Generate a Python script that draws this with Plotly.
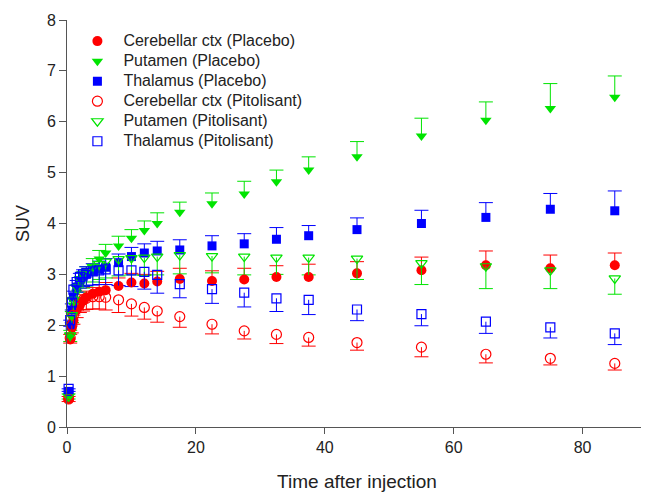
import plotly.graph_objects as go

# Time points (min)
t = [0.25, 0.5, 0.75, 1, 1.5, 2, 2.5, 3, 4, 5, 6, 8, 10, 12, 14, 17.5,
     22.5, 27.5, 32.5, 37.5, 45, 55, 65, 75, 85]

# Placebo
cer_pl = [0.55, 1.72, 1.95, 2.1, 2.3, 2.4, 2.48, 2.55, 2.62, 2.66, 2.69, 2.77, 2.84, 2.82, 2.86, 2.91,
          2.87, 2.90, 2.95, 2.95, 3.02, 3.08, 3.18, 3.12, 3.18]
cer_pl_err = [0.05, 0.1, 0.1, 0.1, 0.1, 0.1, 0.12, 0.12, 0.12, 0.14, 0.15, 0.16, 0.18, 0.18, 0.2, 0.21,
              0.2, 0.22, 0.22, 0.25, 0.23, 0.26, 0.28, 0.26, 0.24]
put_pl = [0.6, 1.8, 2.15, 2.4, 2.65, 2.8, 2.9, 3.0, 3.15, 3.3, 3.42, 3.56, 3.71, 3.86, 4.0, 4.22,
          4.39, 4.58, 4.82, 5.05, 5.31, 5.72, 6.03, 6.26, 6.48]
put_pl_err = [0.05, 0.1, 0.12, 0.12, 0.13, 0.14, 0.15, 0.15, 0.16, 0.17, 0.17, 0.19, 0.17, 0.19, 0.21, 0.2,
              0.21, 0.25, 0.23, 0.26, 0.3, 0.35, 0.36, 0.49, 0.42]
tha_pl = [0.7, 2.0, 2.3, 2.55, 2.75, 2.88, 2.95, 3.0, 3.06, 3.1, 3.14, 3.23, 3.35, 3.42, 3.46, 3.48,
          3.56, 3.60, 3.69, 3.76, 3.88, 4.0, 4.12, 4.28, 4.25]
tha_pl_err = [0.05, 0.1, 0.12, 0.12, 0.13, 0.14, 0.14, 0.15, 0.15, 0.16, 0.17, 0.17, 0.18, 0.18, 0.19, 0.2,
              0.2, 0.2, 0.23, 0.2, 0.23, 0.26, 0.29, 0.31, 0.39]

# Pitolisant
cer_pi = [0.55, 1.75, 2.0, 2.2, 2.35, 2.45, 2.5, 2.53, 2.56, 2.56, 2.55, 2.5, 2.42, 2.35, 2.28, 2.17,
          2.02, 1.89, 1.82, 1.76, 1.66, 1.57, 1.43, 1.35, 1.25]
cer_pi_err = [0.05, 0.1, 0.15, 0.18, 0.2, 0.2, 0.22, 0.22, 0.24, 0.24, 0.25, 0.25, 0.24, 0.23, 0.22, 0.21,
              0.19, 0.16, 0.18, 0.17, 0.15, 0.19, 0.17, 0.13, 0.13]
put_pi = [0.6, 1.8, 2.2, 2.5, 2.75, 2.9, 3.0, 3.05, 3.15, 3.2, 3.25, 3.3, 3.32, 3.33, 3.35, 3.38,
          3.36, 3.35, 3.33, 3.33, 3.31, 3.22, 3.16, 3.08, 2.92]
put_pi_err = [0.05, 0.12, 0.15, 0.2, 0.22, 0.25, 0.27, 0.28, 0.3, 0.3, 0.32, 0.33, 0.33, 0.35, 0.36, 0.37,
              0.33, 0.36, 0.33, 0.34, 0.41, 0.42, 0.44, 0.36, 0.31]
tha_pi = [0.75, 2.1, 2.45, 2.7, 2.85, 2.95, 3.0, 3.03, 3.06, 3.08, 3.1, 3.08, 3.08, 3.05, 2.99, 2.81,
          2.71, 2.64, 2.53, 2.50, 2.31, 2.22, 2.07, 1.96, 1.84]
tha_pi_err = [0.05, 0.12, 0.15, 0.18, 0.2, 0.22, 0.24, 0.25, 0.27, 0.28, 0.3, 0.3, 0.32, 0.34, 0.36, 0.27,
              0.28, 0.28, 0.26, 0.29, 0.22, 0.23, 0.23, 0.21, 0.22]

x_ticks = [0, 20, 40, 60, 80]
y_ticks = [0, 1, 2, 3, 4, 5, 6, 7, 8]

RED = "#FF0000"
GREEN = "#00E400"
BLUE = "#0000FF"

series = [
    ("Cerebellar ctx (Placebo)", cer_pl, cer_pl_err, RED, "circle", True),
    ("Putamen (Placebo)", put_pl, put_pl_err, GREEN, "triangle-down", True),
    ("Thalamus (Placebo)", tha_pl, tha_pl_err, BLUE, "square", True),
    ("Cerebellar ctx (Pitolisant)", cer_pi, cer_pi_err, RED, "circle-open", False),
    ("Putamen (Pitolisant)", put_pi, put_pi_err, GREEN, "triangle-down-open", False),
    ("Thalamus (Pitolisant)", tha_pi, tha_pi_err, BLUE, "square-open", False),
]

fig = go.Figure()

# caps first (under markers)
for name, vals, err, col, sym, up in series:
    cap_y = [v + e for v, e in zip(vals, err)] if up else [v - e for v, e in zip(vals, err)]
    fig.add_trace(go.Scatter(
        x=t, y=cap_y, mode="markers", showlegend=False, hoverinfo="skip",
        marker=dict(symbol="line-ew", size=10, line=dict(color=col, width=1)),
        cliponaxis=False,
    ))

for name, vals, err, col, sym, up in series:
    zeros = [0] * len(vals)
    ms = 9 if "square" in sym else 10
    fig.add_trace(go.Scatter(
        x=t, y=vals, mode="markers",
        name="<span style='font-size:16px'>%s</span>" % name,
        marker=dict(symbol=sym, size=ms, color=col,
                    line=dict(color=col, width=1.2 if "open" in sym else 0)),
        error_y=dict(type="data", symmetric=False,
                     array=err if up else zeros,
                     arrayminus=zeros if up else err,
                     width=0, thickness=1, color=col),
        cliponaxis=False,
    ))

# page body has an 8px margin: figure is sized to fill the rest of the window
fig.update_layout(
    width=641, height=487,
    margin=dict(l=59, r=2, t=12, b=68),
    paper_bgcolor="white", plot_bgcolor="white",
    font=dict(family="Liberation Sans, Arial, sans-serif", size=16, color="#222"),
    showlegend=True,
    legend=dict(
        x=0.0076, y=0.985, xanchor="left", yanchor="top",
        bgcolor="rgba(0,0,0,0)", borderwidth=0,
        font=dict(size=13.1, color="#222"),
        itemwidth=42, tracegroupgap=0,
    ),
    xaxis=dict(
        range=[0, 90], tickvals=x_ticks, ticks="outside", ticklen=6, tickwidth=1,
        tickcolor="#555", showline=True, linecolor="#555", linewidth=1,
        showgrid=False, zeroline=False, automargin=False,
        tickfont=dict(size=16, color="#222"),
        title=dict(text="Time after injection", font=dict(size=19, color="#222"), standoff=19),
    ),
    yaxis=dict(
        range=[0, 8], tickvals=y_ticks, ticks="outside", ticklen=7, tickwidth=1,
        tickcolor="#555", showline=True, linecolor="#555", linewidth=1,
        showgrid=False, zeroline=False, automargin=False,
        tickfont=dict(size=16, color="#222"),
        title=dict(text="SUV", font=dict(size=18, color="#222"), standoff=12),
    ),
)

fig.write_html("out.html")
